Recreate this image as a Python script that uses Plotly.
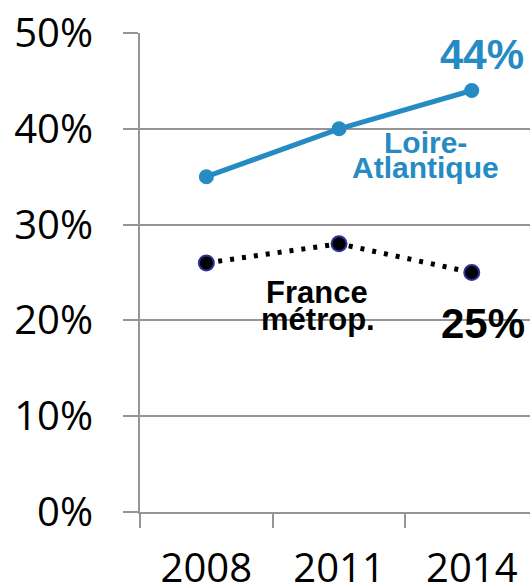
import plotly.graph_objects as go

# Survey years and share of respondents (%)
years = ["2008", "2011", "2014"]
loire_atlantique = [35, 40, 44]
france_metrop = [26, 28, 25]
y_ticks = [0, 10, 20, 30, 40, 50]
y_tick_labels = [f"{v}%" for v in y_ticks]

BLUE = "#268BC3"
GRID = "#959595"

fig = go.Figure()

fig.add_trace(go.Scatter(
    x=years, y=loire_atlantique, mode="lines+markers",
    line=dict(color=BLUE, width=5),
    marker=dict(color=BLUE, size=15),
    showlegend=False, hoverinfo="skip",
))

fig.add_trace(go.Scatter(
    x=years, y=france_metrop, mode="lines+markers",
    line=dict(color="black", width=5, dash="4px,8px"),
    marker=dict(color="black", size=15, line=dict(color="#2f2f9a", width=2)),
    showlegend=False, hoverinfo="skip",
))

label_font = "Liberation Sans, Arial, sans-serif"
last = len(years) - 1  # category index of the last year

# Value labels on the last point of each series
fig.add_annotation(x=last, y=loire_atlantique[-1],
                   text=f"<b>{loire_atlantique[-1]}%</b>", showarrow=False,
                   xshift=10, yshift=36,
                   font=dict(family=label_font, size=42, color=BLUE))
fig.add_annotation(x=last, y=france_metrop[-1],
                   text=f"<b>{france_metrop[-1]}%</b>", showarrow=False,
                   xshift=11, yshift=-51,
                   font=dict(family=label_font, size=42, color="black"))

# Series names, one line each for tight spacing
for txt, px, py, col, sz in [
    ("Loire-", 425, 142, BLUE, 30),
    ("Atlantique", 425, 168, BLUE, 30),
    ("France", 317, 292, "black", 31),
    ("métrop.", 318, 319, "black", 31),
]:
    fig.add_annotation(
        x=(px - 140) / 390, y=1 - (py - 33) / 479,
        xref="paper", yref="paper", xanchor="center", yanchor="middle",
        text=f"<b>{txt}</b>", showarrow=False,
        font=dict(family=label_font, size=sz, color=col),
    )

fig.update_layout(
    width=530, height=587,
    margin=dict(l=140, r=0, t=33, b=75, autoexpand=False),
    paper_bgcolor="white", plot_bgcolor="white",
    font=dict(family="Open Sans, sans-serif", color="black"),
    xaxis=dict(
        type="category", range=[-0.5, 2.439], automargin=False,
        tickson="boundaries", ticks="outside", ticklen=14,
        tickwidth=2, tickcolor=GRID,
        showgrid=False, showline=True, linecolor=GRID, linewidth=2,
        tickfont=dict(size=40), ticklabelstandoff=20,
        zeroline=False,
    ),
    yaxis=dict(
        range=[0, 50], automargin=False,
        tickmode="array", tickvals=y_ticks, ticktext=y_tick_labels,
        ticks="outside", ticklen=15, tickwidth=2, tickcolor=GRID,
        showgrid=True, gridcolor=GRID, gridwidth=2,
        showline=True, linecolor=GRID, linewidth=2,
        zeroline=False, tickfont=dict(size=40), ticklabelstandoff=22,
    ),
)

fig.write_html("out.html")
